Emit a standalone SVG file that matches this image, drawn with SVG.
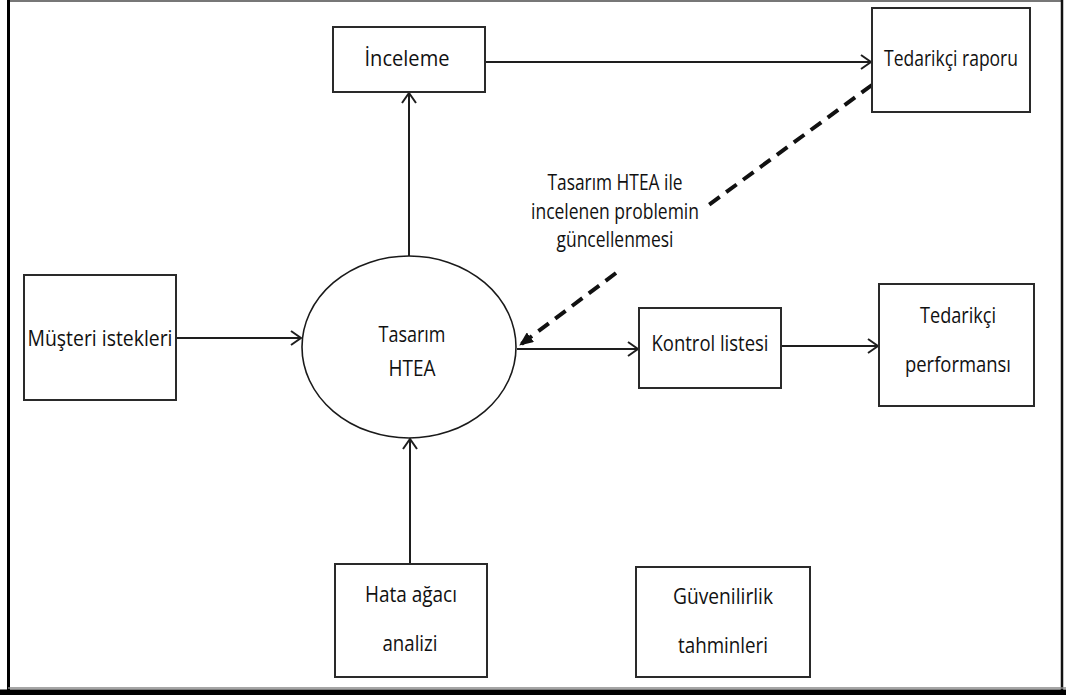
<svg xmlns="http://www.w3.org/2000/svg" width="1066" height="695" viewBox="0 0 1066 695">
  <defs>
    <style>
      .box { fill: #ffffff; stroke: #2a2a2a; stroke-width: 2; }
      .oval { fill: #ffffff; stroke: #1a1a1a; stroke-width: 1.6; }
      .wire { fill: none; stroke: #1e1e1e; stroke-width: 2; }
      .dash { fill: none; stroke: #111111; stroke-width: 4; stroke-dasharray: 13 8; }
      .lbl { font-family: "Open Sans", "Liberation Sans", sans-serif; font-size: 22px; fill: #111111; text-anchor: middle; }
    </style>
    <marker id="open" viewBox="0 0 12 16" refX="11" refY="8" markerWidth="12" markerHeight="16" markerUnits="userSpaceOnUse" orient="auto">
      <path d="M1 1 L11 8 L1 15" fill="none" stroke="#1e1e1e" stroke-width="2"/>
    </marker>
    <marker id="solid" viewBox="0 0 14 12" refX="13" refY="6" markerWidth="14" markerHeight="12" markerUnits="userSpaceOnUse" orient="auto">
      <path d="M0 0 L14 6 L0 12 Z" fill="#111111"/>
    </marker>
  </defs>

  <rect x="0" y="0" width="1066" height="695" fill="#ffffff"/>

  <!-- page frame -->
  <g id="frame">
    <line x1="8" y1="1" x2="1062" y2="1" stroke="#777777" stroke-width="2"/>
    <line x1="8.5" y1="0" x2="8.5" y2="695" stroke="#000000" stroke-width="3"/>
    <line x1="1062" y1="0" x2="1062" y2="695" stroke="#111111" stroke-width="2.5"/>
    <line x1="8" y1="688" x2="1066" y2="688" stroke="#888888" stroke-width="1.5"/>
    <rect x="0" y="689.5" width="1066" height="6" fill="#000000"/>
  </g>

  <!-- connectors -->
  <g id="connectors">
    <line class="wire" x1="485" y1="62" x2="871" y2="62" marker-end="url(#open)"/>
    <line class="wire" x1="409" y1="256" x2="409" y2="93" marker-end="url(#open)"/>
    <line class="wire" x1="176" y1="338" x2="301" y2="338" marker-end="url(#open)"/>
    <line class="wire" x1="517" y1="349" x2="638" y2="349" marker-end="url(#open)"/>
    <line class="wire" x1="781" y1="346" x2="878" y2="346" marker-end="url(#open)"/>
    <line class="wire" x1="410" y1="564" x2="410" y2="439" marker-end="url(#open)"/>
    <line class="dash" x1="872" y1="85" x2="706" y2="207"/>
    <line class="dash" x1="616" y1="273" x2="520" y2="345" marker-end="url(#solid)"/>
    <g id="feedback-label">
      <text class="lbl" x="615" y="190" textLength="135" lengthAdjust="spacingAndGlyphs">Tasarım HTEA ile</text>
      <text class="lbl" x="615" y="219" textLength="168" lengthAdjust="spacingAndGlyphs">incelenen problemin</text>
      <text class="lbl" x="615" y="247" textLength="117" lengthAdjust="spacingAndGlyphs">güncellenmesi</text>
    </g>
  </g>

  <g id="inceleme">
    <rect class="box" x="333" y="27" width="152" height="65"/>
    <text class="lbl" x="407" y="66" textLength="85" lengthAdjust="spacingAndGlyphs">İnceleme</text>
  </g>

  <g id="tedarikci-raporu">
    <rect class="box" x="872" y="8" width="158" height="104"/>
    <text class="lbl" x="951" y="66" textLength="134" lengthAdjust="spacingAndGlyphs">Tedarikçi raporu</text>
  </g>

  <g id="musteri-istekleri">
    <rect class="box" x="24" y="275" width="152" height="125"/>
    <text class="lbl" x="100" y="346" textLength="145" lengthAdjust="spacingAndGlyphs">Müşteri istekleri</text>
  </g>

  <g id="tasarim-htea">
    <ellipse class="oval" cx="409" cy="347" rx="107" ry="91"/>
    <text class="lbl" x="412" y="342" textLength="67" lengthAdjust="spacingAndGlyphs">Tasarım</text>
    <text class="lbl" x="412" y="376" textLength="47" lengthAdjust="spacingAndGlyphs">HTEA</text>
  </g>

  <g id="kontrol-listesi">
    <rect class="box" x="639" y="308" width="142" height="80"/>
    <text class="lbl" x="710" y="351" textLength="117" lengthAdjust="spacingAndGlyphs">Kontrol listesi</text>
  </g>

  <g id="tedarikci-performansi">
    <rect class="box" x="879" y="284" width="155" height="122"/>
    <text class="lbl" x="958" y="323" textLength="76" lengthAdjust="spacingAndGlyphs">Tedarikçi</text>
    <text class="lbl" x="958" y="372" textLength="106" lengthAdjust="spacingAndGlyphs">performansı</text>
  </g>

  <g id="hata-agaci-analizi">
    <rect class="box" x="335" y="564" width="152" height="113"/>
    <text class="lbl" x="411" y="602" textLength="92" lengthAdjust="spacingAndGlyphs">Hata ağacı</text>
    <text class="lbl" x="410" y="651" textLength="55" lengthAdjust="spacingAndGlyphs">analizi</text>
  </g>

  <g id="guvenilirlik-tahminleri">
    <rect class="box" x="636" y="567" width="174" height="110"/>
    <text class="lbl" x="723" y="604" textLength="100" lengthAdjust="spacingAndGlyphs">Güvenilirlik</text>
    <text class="lbl" x="723" y="653" textLength="90" lengthAdjust="spacingAndGlyphs">tahminleri</text>
  </g>
</svg>
